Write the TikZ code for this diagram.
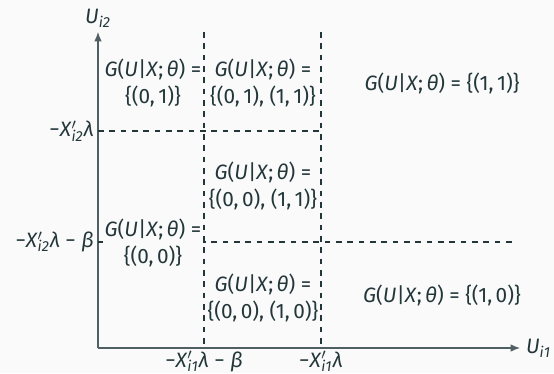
\documentclass[tikz,border=0pt]{standalone}
\usepackage{fontspec}
\setmainfont{Fira Sans}
\usetikzlibrary{arrows.meta,positioning}
\definecolor{mDarkTeal}{HTML}{23373B}
\definecolor{mBg}{HTML}{FAFAFA}
\newcommand{\mv}[1]{\textit{#1}}
\newcommand{\Xp}[1]{\mv{X}\rlap{$^{\prime}$}\textsubscript{\mv{#1}}}
\newcommand{\Gset}{\mv{G}(\mv{U}|\mv{X};\,\mv{θ}) =}
\begin{document}
\begin{tikzpicture}[
    x=0.0186cm, y=-0.0186cm,
    font=\fontsize{11}{14.5}\selectfont, text=mDarkTeal,
    axis/.style={-{Latex[length=5pt,width=4pt]}, mDarkTeal!80, semithick},
    divider/.style={dashed, line width=1pt, mDarkTeal},
    region/.style={align=center, fill=mBg, inner sep=1pt},
    tick/.style={inner sep=2pt}
]

% Background and frame
\fill[mBg] (0,0) rectangle (554,373);
\useasboundingbox (0,0) rectangle (554,373);

% Axes
\coordinate (O) at (98,348);
\coordinate (u2tip) at (98,32);
\coordinate (u1tip) at (520,348);
\draw[axis] (O) -- (u2tip);
\draw[axis] (O) -- (u1tip);
\node[anchor=south, inner sep=2pt] (u2) at (u2tip) {\mv{U}\textsubscript{\mv{i2}}};
\node[anchor=west, inner sep=3pt] (u1) at (u1tip) {\mv{U}\textsubscript{\mv{i1}}};

% Thresholds
\coordinate (a top) at (204,32);
\coordinate (a bot) at (204,348);
\coordinate (b top) at (321,32);
\coordinate (b bot) at (321,348);
\coordinate (h1 left) at (98,131);
\coordinate (h1 right) at (321,131);
\coordinate (h2 left) at (98,242);
\coordinate (h2 right) at (517,242);

\draw[divider] (h1 left) -- (h1 right);
\draw[divider] (h2 left) -- (h2 right);

% Tick labels
\node[tick, anchor=east] (t2hi) at (h1 left) {−\Xp{i2}\mv{λ}};
\node[tick, anchor=east] (t2lo) at (h2 left) {−\Xp{i2}\mv{λ} − \mv{β}};
\node[tick, anchor=base] (t1lo) at (204,367) {−\Xp{i1}\mv{λ} − \mv{β}};
\node[tick, anchor=base] (t1hi) at (321,367) {−\Xp{i1}\mv{λ}};

% Regions
\node[region] (r01) at (153,83) {\Gset\\\{(0,\,1)\}};
\node[region] (r0111) at (263,83) {\Gset\\\{(0,\,1), (1,\,1)\}};
\node[region] (r11) at (442,83) {\Gset{} \{(1,\,1)\}};
\node[region] (r0011) at (263,186) {\Gset\\\{(0,\,0), (1,\,1)\}};
\node[region] (r00) at (153,243) {\Gset\\\{(0,\,0)\}};
\node[region] (r0010) at (263,298) {\Gset\\\{(0,\,0), (1,\,0)\}};
\node[region] (r10) at (442,295) {\Gset{} \{(1,\,0)\}};

\draw[divider] (a top) -- (a bot);
\draw[divider] (b top) -- (b bot);

\end{tikzpicture}
\end{document}
